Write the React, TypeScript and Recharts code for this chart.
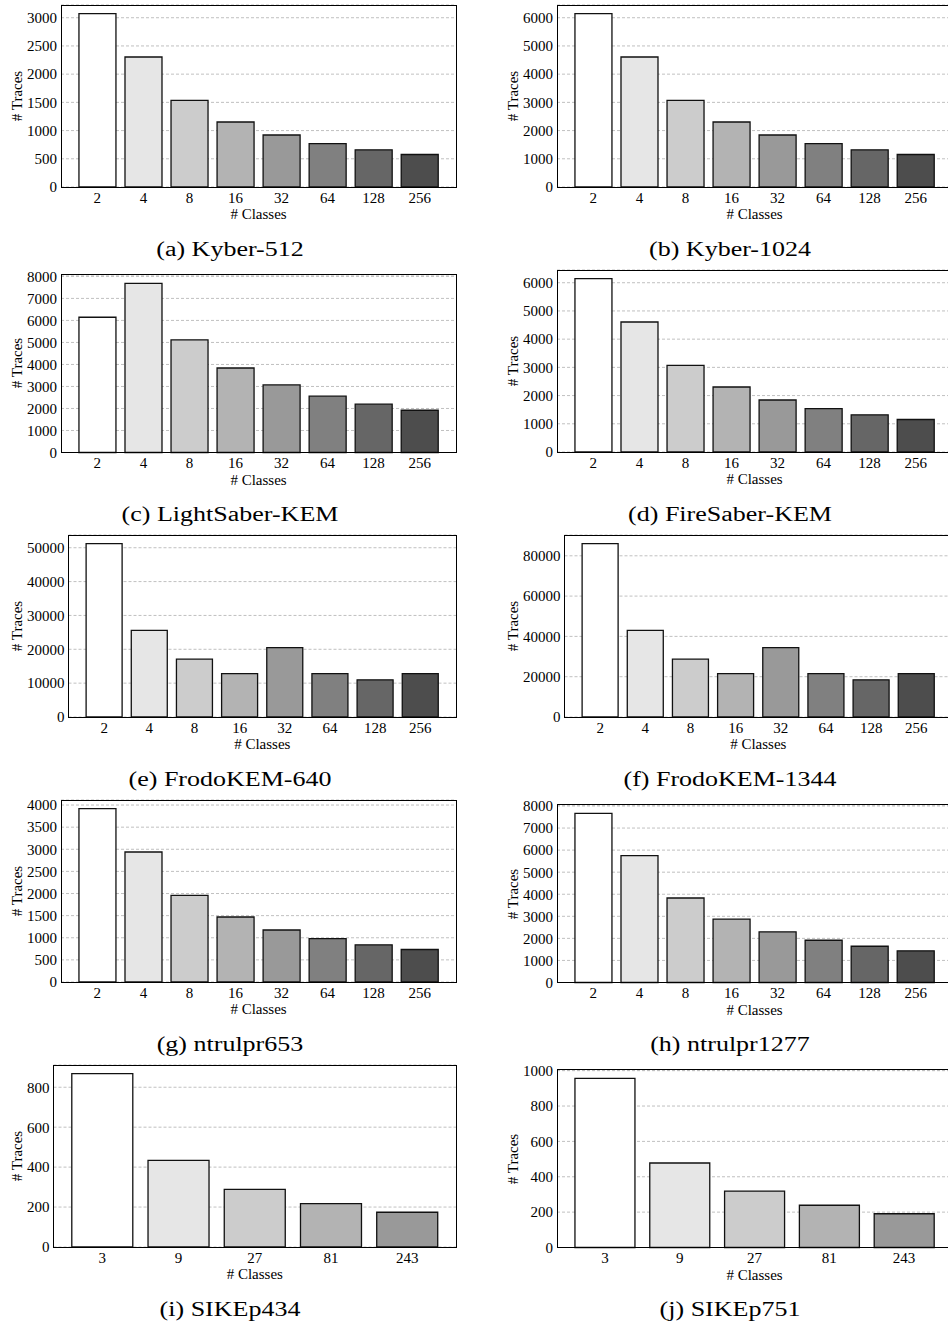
import React from 'react';
import { BarChart, Bar, XAxis, YAxis, CartesianGrid, Cell, Label } from 'recharts';

const FONT = '"Liberation Serif", "Times New Roman", serif';

// x categories
const classesPow2 = ['2', '4', '8', '16', '32', '64', '128', '256'];
const classesPow3 = ['3', '9', '27', '81', '243'];

// # traces per scheme
const kyber512 = [3072, 2304, 1536, 1152, 922, 768, 658, 576];
const kyber1024 = [6144, 4608, 3072, 2304, 1843, 1536, 1317, 1152];
const lightSaber = [6144, 7680, 5120, 3840, 3072, 2560, 2194, 1920];
const fireSaber = [6144, 4608, 3072, 2304, 1843, 1536, 1317, 1152];
const frodo640 = [51200, 25600, 17067, 12800, 20480, 12800, 10971, 12800];
const frodo1344 = [86016, 43008, 28672, 21504, 34406, 21504, 18432, 21504];
const ntru653 = [3918, 2939, 1959, 1469, 1175, 980, 840, 735];
const ntru1277 = [7662, 5747, 3831, 2873, 2299, 1916, 1642, 1437];
const sike434 = [868, 434, 289, 217, 174];
const sike751 = [956, 478, 319, 239, 191];

// y ticks
const ticks3000 = [0, 500, 1000, 1500, 2000, 2500, 3000];
const ticks6000 = [0, 1000, 2000, 3000, 4000, 5000, 6000];
const ticks8000 = [0, 1000, 2000, 3000, 4000, 5000, 6000, 7000, 8000];
const ticks50k = [0, 10000, 20000, 30000, 40000, 50000];
const ticks80k = [0, 20000, 40000, 60000, 80000];
const ticks4000 = [0, 500, 1000, 1500, 2000, 2500, 3000, 3500, 4000];
const ticks800 = [0, 200, 400, 600, 800];
const ticks1000 = [0, 200, 400, 600, 800, 1000];

const GREYS = ['#ffffff', '#e6e6e6', '#cccccc', '#b3b3b3', '#999999', '#808080', '#666666', '#4d4d4d'];

const panels = [
  { caption: '(a) Kyber-512', cats: classesPow2, values: kyber512, ticks: ticks3000, col: 0, row: 0 },
  { caption: '(b) Kyber-1024', cats: classesPow2, values: kyber1024, ticks: ticks6000, col: 1, row: 0 },
  { caption: '(c) LightSaber-KEM', cats: classesPow2, values: lightSaber, ticks: ticks8000, col: 0, row: 1 },
  { caption: '(d) FireSaber-KEM', cats: classesPow2, values: fireSaber, ticks: ticks6000, col: 1, row: 1 },
  { caption: '(e) FrodoKEM-640', cats: classesPow2, values: frodo640, ticks: ticks50k, col: 0, row: 2 },
  { caption: '(f) FrodoKEM-1344', cats: classesPow2, values: frodo1344, ticks: ticks80k, col: 1, row: 2 },
  { caption: '(g) ntrulpr653', cats: classesPow2, values: ntru653, ticks: ticks4000, col: 0, row: 3 },
  { caption: '(h) ntrulpr1277', cats: classesPow2, values: ntru1277, ticks: ticks8000, col: 1, row: 3 },
  { caption: '(i) SIKEp434', cats: classesPow3, values: sike434, ticks: ticks800, col: 0, row: 4 },
  { caption: '(j) SIKEp751', cats: classesPow3, values: sike751, ticks: ticks1000, col: 1, row: 4 },
];

const ROW_PITCH = 265.1;
const FIRST_BOTTOM = 187;
const COL_OFFSET = [0, 496];
const CAPTION_X = [230, 730];
const CHART_W = 470;
const PLOT_RIGHT = 456;

type PanelCfg = (typeof panels)[number];

const Panel = ({ cfg }: { cfg: PanelCfg }) => {
  const n = cfg.cats.length;
  const top = Math.max(...cfg.values) * 1.05;
  const topTick = cfg.ticks[cfg.ticks.length - 1];
  const plotH = topTick / top > 0.98 ? 177.5 : 182;
  const plotLeft = 31 + 7.5 * String(topTick).length;
  const bottom = FIRST_BOTTOM + ROW_PITCH * cfg.row;
  const plotTop = bottom - plotH;
  const plotW = PLOT_RIGHT - plotLeft;
  // matplotlib-like x margins: bars are 0.8 wide, 5% padding on the data range
  const pitch = plotW / ((n - 0.2) * 1.1);
  const pad = (0.05 * (n - 0.2) - 0.1) * pitch;
  const x0 = COL_OFFSET[cfg.col];
  const data = cfg.cats.map((c, i) => ({ name: c, value: cfg.values[i] }));
  const tickStyle = { fill: '#000', fontSize: 15, fontFamily: FONT };

  return (
    <>
      <div style={{ position: 'absolute', left: x0, top: plotTop - 10 }}>
        <BarChart
          width={CHART_W}
          height={plotH + 50}
          data={data}
          margin={{ top: 10, right: CHART_W - PLOT_RIGHT, bottom: 0, left: 0 }}
          barCategoryGap="10%"
        >
          <CartesianGrid vertical={false} stroke="#b0b0b0" strokeDasharray="3 2" strokeWidth={0.8} />
          <XAxis
            dataKey="name"
            interval={0}
            axisLine={false}
            tickLine={false}
            tickSize={0}
            tickMargin={5}
            height={40}
            padding={{ left: pad, right: pad }}
            tick={tickStyle}
          >
            <Label value="# Classes" position="insideBottom" offset={8} fill="#000" fontSize={15} fontFamily={FONT} />
          </XAxis>
          <YAxis
            width={plotLeft}
            domain={[0, top]}
            ticks={cfg.ticks}
            interval={0}
            axisLine={false}
            tickLine={false}
            tickSize={0}
            tickMargin={4}
            tick={tickStyle}
          />
          <Bar dataKey="value" isAnimationActive={false} stroke="#111" strokeWidth={1.3}>
            {data.map((d, i) => (
              <Cell key={d.name} fill={GREYS[i]} />
            ))}
          </Bar>
        </BarChart>
        <div
          style={{
            position: 'absolute',
            left: plotLeft - 0.5,
            top: 9.5,
            width: plotW + 1,
            height: plotH + 1,
            border: '1px solid #000',
            boxSizing: 'border-box',
            pointerEvents: 'none',
          }}
        />
      </div>
      <div
        style={{
          position: 'absolute',
          left: x0 + 16.5,
          top: (plotTop + bottom) / 2,
          transform: 'translate(-50%, -50%) rotate(-90deg)',
          fontFamily: FONT,
          fontSize: 15,
          lineHeight: '15px',
          whiteSpace: 'nowrap',
          color: '#000',
        }}
      >
        # Traces
      </div>
      <div
        style={{
          position: 'absolute',
          left: CAPTION_X[cfg.col],
          top: bottom + 68.7 - 16.75,
          transform: 'translateX(-50%) scaleX(1.3)',
          fontFamily: FONT,
          fontSize: 20,
          lineHeight: '20px',
          whiteSpace: 'nowrap',
          color: '#000',
        }}
      >
        {cfg.caption}
      </div>
    </>
  );
};

export default function App() {
  return (
    <div
      style={{
        position: 'absolute',
        left: 0,
        top: 0,
        width: 948,
        height: 1326,
        overflow: 'hidden',
        background: '#fff',
      }}
    >
      {panels.map((p) => (
        <Panel key={p.caption} cfg={p} />
      ))}
    </div>
  );
}
